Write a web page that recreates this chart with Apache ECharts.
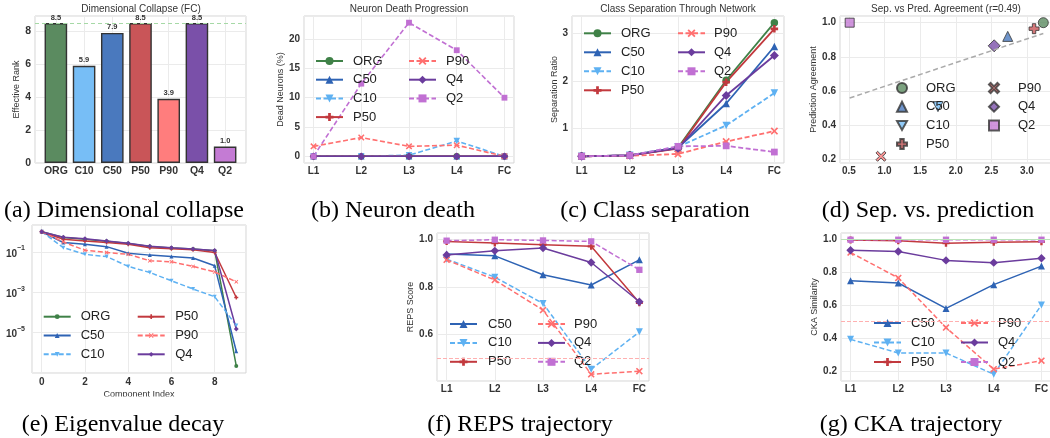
<!DOCTYPE html>
<html lang="en">
<head>
<meta charset="UTF-8">
<title>Compression diagnostics</title>
<script src="https://cdn.jsdelivr.net/npm/echarts@6/dist/echarts.min.js"></script>
<style>html,body{margin:0;padding:0;background:#fff}#main{width:1050px;height:438px}</style>
</head>
<body>
<div id="main"></div>
<script>
// ---- data ----
var models = ['ORG', 'C50', 'C10', 'P50', 'P90', 'Q4', 'Q2'];
var barOrder = ['ORG', 'C10', 'C50', 'P50', 'P90', 'Q4', 'Q2'];
var effRank = [8.5, 5.9, 7.9, 8.5, 3.9, 8.5, 1.0];
var layers = ['L1', 'L2', 'L3', 'L4', 'FC'];

// dead neurons (%)
var deadORG = [0, 0, 0, 0, 0];
var deadC50 = [0, 0, 0, 0, 0];
var deadC10 = [0, 0, 0.2, 2.6, 0];
var deadP50 = [0, 0, 0, 0, 0];
var deadP90 = [1.7, 3.2, 1.7, 1.9, 0];
var deadQ4 = [0, 0, 0, 0, 0];
var deadQ2 = [0, 12.4, 22.8, 18.1, 10.0];

// class separation ratio
var sepORG = [0.42, 0.44, 0.60, 2.02, 3.23];
var sepC50 = [0.42, 0.44, 0.60, 1.53, 2.73];
var sepC10 = [0.42, 0.44, 0.62, 1.07, 1.75];
var sepP50 = [0.42, 0.44, 0.58, 1.98, 3.10];
var sepP90 = [0.42, 0.43, 0.47, 0.73, 0.95];
var sepQ4 = [0.42, 0.44, 0.59, 1.70, 2.54];
var sepQ2 = [0.42, 0.44, 0.63, 0.64, 0.51];

// prediction agreement (same order as models)
var agree = [1.0, 0.92, 0.51, 0.965, 0.22, 0.865, 1.0];

// normalised eigenvalues, components 0..9
var eigORG = [1.0, 0.513, 0.427, 0.339, 0.263, 0.186, 0.158, 0.138, 0.115, 2.24e-7];
var eigC50 = [1.0, 0.288, 0.240, 0.182, 0.0851, 0.0692, 0.0589, 0.0501, 0.0204, 1.2e-6];
var eigC10 = [1.0, 0.162, 0.0759, 0.0589, 0.0191, 0.00955, 0.00372, 0.00145, 0.000603, 2.24e-5];
var eigP50 = [1.0, 0.427, 0.347, 0.288, 0.240, 0.162, 0.145, 0.126, 0.0933, 5.5e-4];
var eigP90 = [1.0, 0.309, 0.120, 0.0933, 0.0759, 0.0363, 0.0324, 0.0191, 0.0102, 0.00331];
var eigQ4 = [1.0, 0.537, 0.447, 0.347, 0.269, 0.191, 0.162, 0.141, 0.117, 1.51e-5];

// REPS score
var repsC50 = [0.94, 0.932, 0.852, 0.809, 0.915];
var repsC10 = [0.918, 0.842, 0.731, 0.453, 0.611];
var repsP50 = [0.993, 0.986, 0.979, 0.972, 0.734];
var repsP90 = [0.915, 0.83, 0.703, 0.432, 0.445];
var repsQ4 = [0.936, 0.953, 0.965, 0.904, 0.738];
var repsQ2 = [0.996, 1.0, 0.997, 0.993, 0.873];

// CKA similarity
var ckaC50 = [0.75, 0.736, 0.581, 0.726, 0.839];
var ckaC10 = [0.392, 0.309, 0.309, 0.179, 0.602];
var ckaP50 = [0.998, 0.994, 0.979, 0.984, 0.988];
var ckaP90 = [0.922, 0.767, 0.464, 0.21, 0.262];
var ckaQ4 = [0.936, 0.928, 0.874, 0.86, 0.887];
var ckaQ2 = [1.0, 1.0, 1.0, 1.0, 1.0];

var dead = {ORG: deadORG, C50: deadC50, C10: deadC10, P50: deadP50, P90: deadP90, Q4: deadQ4, Q2: deadQ2};
var sep = {ORG: sepORG, C50: sepC50, C10: sepC10, P50: sepP50, P90: sepP90, Q4: sepQ4, Q2: sepQ2};
var eig = {ORG: eigORG, C50: eigC50, C10: eigC10, P50: eigP50, P90: eigP90, Q4: eigQ4};
var reps = {C50: repsC50, C10: repsC10, P50: repsP50, P90: repsP90, Q4: repsQ4, Q2: repsQ2};
var cka = {C50: ckaC50, C10: ckaC10, P50: ckaP50, P90: ckaP90, Q4: ckaQ4, Q2: ckaQ2};

// ---- styles ----
var FONT = '"Liberation Sans", Arial, sans-serif';
var COL = {ORG: '#3f8147', C50: '#2e63b4', C10: '#5eb1f2', P50: '#c2393e', P90: '#ff6f6f', Q4: '#6b3c9d', Q2: '#c170d3'};
var BAR = {ORG: '#5b8b60', C10: '#77bef6', C50: '#4a79be', P50: '#c95558', P90: '#ff7d7d', Q4: '#7a50a9', Q2: '#c47bd4'};
var PLUS = 'path://M3.3,0H6.7V3.3H10V6.7H6.7V10H3.3V6.7H0V3.3H3.3Z';
var XMARK = 'path://M1.6,0L5,3.4L8.4,0L10,1.6L6.6,5L10,8.4L8.4,10L5,6.6L1.6,10L0,8.4L3.4,5L0,1.6Z';
var VTRI = 'path://M0,0H10L5,9Z';
var SYM = {ORG: 'circle', C50: 'triangle', C10: VTRI, P50: PLUS, P90: XMARK, Q4: 'diamond', Q2: 'rect'};
var SCALE = {Q4: 1.2, Q2: 0.9};
var DASHED = {C10: true, P90: true, Q2: true};

function allOf(map) {
  var out = [];
  for (var k in map) out = out.concat(map[k]);
  return out;
}
// matplotlib-like 5% margins
function pad(arr) {
  var lo = Math.min.apply(null, arr), hi = Math.max.apply(null, arr), r = hi - lo;
  return [lo - 0.05 * r, hi + 0.05 * r];
}
function near(v, step) {
  var k = Math.round(v / step);
  return Math.abs(v - k * step) < 1e-6;
}
function valAxis(gi, lim, step, fmt, o) {
  o = o || {};
  var ax = {
    type: 'value', gridIndex: gi, min: lim[0], max: lim[1],
    minInterval: step, maxInterval: step, splitNumber: Math.max(1, Math.round((lim[1] - lim[0]) / step)),
    axisLine: {show: false}, axisTick: {show: false},
    splitLine: {show: true, lineStyle: {color: '#ebebeb', width: 1}},
    axisLabel: {color: '#333', fontSize: o.fs || 10, fontWeight: 'bold', fontFamily: FONT, margin: o.margin || 4,
      formatter: function (v) { return near(v, step) ? fmt(v) : ''; }}
  };
  if (o.name) {
    ax.name = o.name; ax.nameLocation = 'middle'; ax.nameGap = o.nameGap;
    ax.nameTextStyle = {fontSize: 9, color: '#333', fontFamily: FONT};
  }
  return ax;
}
function layerAxis(gi) {
  return valAxis(gi, [-0.2, 4.2], 1, function (v) { return layers[Math.round(v)] || ''; }, {margin: 3});
}
function lineSeries(tag, gi, n, values, o) {
  return {
    type: 'line', name: n + '|' + tag, xAxisIndex: gi, yAxisIndex: gi,
    data: values.map(function (v, i) { return [i, o.log ? Math.log10(v) : v]; }),
    symbol: SYM[n], symbolSize: o.ms * (SCALE[n] || 1), showSymbol: true,
    lineStyle: {color: COL[n], width: o.lw, type: DASHED[n] ? [5, 2.5] : 'solid'},
    itemStyle: {color: COL[n], borderWidth: 0},
    emphasis: {disabled: true}
  };
}
function legendCol(names, tag, left, top, o) {
  return {
    orient: 'vertical', left: left, top: top, padding: 0,
    itemGap: o.gap, itemWidth: o.iw, itemHeight: o.ih, selectedMode: false,
    data: names.map(function (n) { return n + '|' + tag; }),
    formatter: function (n) { return n.split('|')[0]; },
    textStyle: {fontSize: 13, lineHeight: 14, color: '#222', fontFamily: FONT, padding: [0, 0, 0, o.pad]}
  };
}
function hline(y, color, type) {
  return {yAxis: y, lineStyle: {color: color, type: type, width: 1.2}};
}

// ---- derived: least-squares fit of agreement vs FC separation ----
var sepFC = models.map(function (n) { return sep[n][sep[n].length - 1]; });
var mx = sepFC.reduce(function (a, b) { return a + b; }, 0) / sepFC.length;
var my = agree.reduce(function (a, b) { return a + b; }, 0) / agree.length;
var sxy = 0, sxx = 0, syy = 0;
sepFC.forEach(function (x, i) { sxy += (x - mx) * (agree[i] - my); sxx += (x - mx) * (x - mx); syy += (agree[i] - my) * (agree[i] - my); });
var slope = sxy / sxx, icpt = my - slope * mx, rCorr = sxy / Math.sqrt(sxx * syy);
var fx0 = Math.min.apply(null, sepFC), fx1 = Math.max.apply(null, sepFC);

// ---- layout ----
var grids = [
  {left: 35, top: 16, width: 211, height: 147},
  {left: 304, top: 16, width: 210, height: 147},
  {left: 572, top: 16, width: 212, height: 147},
  {left: 840, top: 16, width: 213, height: 147},
  {left: 32, top: 225, width: 214, height: 148},
  {left: 437, top: 233, width: 212, height: 148},
  {left: 841, top: 233, width: 210, height: 148}
].map(function (g) {
  g.show = true; g.borderColor = '#d4d4d4'; g.borderWidth = 1; g.containLabel = false; g.outerBoundsMode = 'none';
  return g;
});

var int0 = function (v) { return String(Math.round(v)); };
var one = function (v) { return v.toFixed(1); };
var eLogLim = pad(allOf(eig).map(Math.log10));

var xAxes = [
  valAxis(0, pad([-0.4, barOrder.length - 1 + 0.4]), 1, function (v) { return barOrder[Math.round(v)] || ''; }, {fs: 10.5, margin: 3}),
  layerAxis(1),
  layerAxis(2),
  valAxis(3, pad(sepFC), 0.5, one, {margin: 3}),
  valAxis(4, pad([0, 9]), 2, int0, {margin: 4, name: 'Component Index', nameGap: 17}),
  layerAxis(5),
  layerAxis(6)
];
var yAxes = [
  valAxis(0, [0, Math.max.apply(null, effRank) * 1.05], 2, int0, {fs: 10.5, name: 'Effective Rank', nameGap: 12.5}),
  valAxis(1, pad(allOf(dead)), 5, int0, {name: 'Dead Neurons (%)', nameGap: 19}),
  valAxis(2, pad(allOf(sep)), 1, int0, {name: 'Separation Ratio', nameGap: 12.5}),
  valAxis(3, pad(agree), 0.2, one, {name: 'Prediction Agreement', nameGap: 20.5}),
  {
    // log10 scale: majors every two decades counted from 1e-7
    type: 'value', gridIndex: 4, min: -7, max: eLogLim[1], interval: 2,
    axisLine: {show: false}, axisTick: {show: false},
    splitLine: {show: true, lineStyle: {color: '#ebebeb', width: 1}},
    axisLabel: {
      margin: 7,
      formatter: function (v) {
        var k = Math.round(v);
        if (Math.abs(v - k) > 1e-6 || k <= -7 || k > eLogLim[1]) return '';
        return '{b|10}{s|' + (k < 0 ? '\u2212' : '') + Math.abs(k) + '}';
      },
      rich: {
        b: {fontSize: 10, fontWeight: 'bold', color: '#333', fontFamily: FONT, verticalAlign: 'bottom', lineHeight: 14},
        s: {fontSize: 7, fontWeight: 'bold', color: '#333', fontFamily: FONT, verticalAlign: 'top', lineHeight: 8}
      }
    }
  },
  valAxis(5, pad(allOf(reps)), 0.2, one, {name: 'REPS Score', nameGap: 20.8}),
  valAxis(6, pad(allOf(cka)), 0.2, one, {name: 'CKA Similarity', nameGap: 19.8})
];

var series = [];
// (a) effective rank bars
series.push({
  type: 'bar', xAxisIndex: 0, yAxisIndex: 0, barWidth: 22.6,
  data: effRank.map(function (v, i) { return {value: [i, v], itemStyle: {color: BAR[barOrder[i]]}}; }),
  itemStyle: {borderColor: '#333', borderWidth: 1.4},
  label: {show: true, position: 'top', distance: 1.5, fontSize: 7.5, fontWeight: 'bold', color: '#333', fontFamily: FONT,
    formatter: function (p) { return p.value[1].toFixed(1); }},
  markLine: {silent: true, symbol: 'none', label: {show: false}, data: [hline(effRank[0], '#a6d9a6', [4, 3])]},
  emphasis: {disabled: true}
});
// (b) dead neurons, (c) separation
models.forEach(function (n) { series.push(lineSeries('b', 1, n, dead[n], {ms: 6.5, lw: 1.6})); });
models.forEach(function (n) { series.push(lineSeries('c', 2, n, sep[n], {ms: 7.5, lw: 1.8})); });
// (d) scatter with fitted trend
series.push({
  type: 'line', name: 'fit', xAxisIndex: 3, yAxisIndex: 3, symbol: 'none',
  data: [[fx0, icpt + slope * fx0], [fx1, icpt + slope * fx1]],
  lineStyle: {color: '#aaaaaa', width: 1.5, type: [5, 3]}, emphasis: {disabled: true}
});
models.forEach(function (n, i) {
  series.push({
    type: 'scatter', name: n + '|d', xAxisIndex: 3, yAxisIndex: 3,
    data: [[sepFC[i], agree[i]]], symbol: SYM[n], symbolSize: 10 * (SCALE[n] || 1),
    itemStyle: {color: BAR[n], borderColor: '#333', borderWidth: 1}, emphasis: {disabled: true}
  });
});
// (e) eigenvalue decay
var eModels = ['ORG', 'C50', 'C10', 'P50', 'P90', 'Q4'];
eModels.forEach(function (n) { series.push(lineSeries('e', 4, n, eig[n], {ms: 4, lw: 1.5, log: true})); });
// (f) REPS, (g) CKA
var tModels = ['C50', 'C10', 'P50', 'P90', 'Q4', 'Q2'];
tModels.forEach(function (n, i) {
  var s = lineSeries('f', 5, n, reps[n], {ms: 7, lw: 1.5});
  if (i === 0) s.markLine = {silent: true, symbol: 'none', label: {show: false}, data: [hline(0.5, '#ffb0b0', [4, 2])]};
  series.push(s);
});
tModels.forEach(function (n, i) {
  var s = lineSeries('g', 6, n, cka[n], {ms: 7, lw: 1.5});
  if (i === 0) s.markLine = {silent: true, symbol: 'none', label: {show: false},
    data: [hline(0.5, '#ffb0b0', [4, 2]), hline(1.0, '#b8e2b8', 'solid')]};
  series.push(s);
});

var LO = {gap: 4.7, iw: 27, ih: 10, pad: 5};
var legends = [
  legendCol(['ORG', 'C50', 'C10', 'P50'], 'b', 315, 54, LO),
  legendCol(['P90', 'Q4', 'Q2'], 'b', 408, 54, LO),
  legendCol(['ORG', 'C50', 'C10', 'P50'], 'c', 583, 26.3, {gap: 5, iw: 27, ih: 10, pad: 5}),
  legendCol(['P90', 'Q4', 'Q2'], 'c', 677, 26.3, {gap: 5, iw: 27, ih: 10, pad: 4}),
  legendCol(['ORG', 'C50', 'C10', 'P50'], 'd', 896, 81, {gap: 4.7, iw: 10, ih: 10, pad: 14}),
  legendCol(['P90', 'Q4', 'Q2'], 'd', 988, 81, {gap: 4.7, iw: 10, ih: 10, pad: 14}),
  legendCol(['ORG', 'C50', 'C10'], 'e', 42.7, 309.7, {gap: 4.8, iw: 27, ih: 6, pad: 5}),
  legendCol(['P50', 'P90', 'Q4'], 'e', 136.7, 309.7, {gap: 4.8, iw: 27, ih: 6, pad: 5.5}),
  legendCol(['C50', 'C10', 'P50'], 'f', 449, 317, {gap: 4.9, iw: 27, ih: 10, pad: 6}),
  legendCol(['P90', 'Q4', 'Q2'], 'f', 537, 317, {gap: 4.9, iw: 27, ih: 10, pad: 4}),
  legendCol(['C50', 'C10', 'P50'], 'g', 873, 316, {gap: 5.5, iw: 27, ih: 10, pad: 5}),
  legendCol(['P90', 'Q4', 'Q2'], 'g', 960, 316, {gap: 5.5, iw: 27, ih: 10, pad: 5})
];

function txt(s, x, y, font, fill) {
  return {type: 'text', x: x, y: y, silent: true, z: 100,
    style: {text: s, font: font, fill: fill, align: 'center', verticalAlign: 'middle', textAlign: 'center', textVerticalAlign: 'middle'}};
}
var TF = '10px ' + FONT, CF = '24px "Liberation Serif", "Times New Roman", serif';
var graphics = [
  // the (e) panel is cut off just under its x-axis name in the source figure
  {type: 'rect', silent: true, z: 90, shape: {x: 0, y: 396.5, width: 262, height: 10}, style: {fill: '#fff'}},
  txt('Dimensional Collapse (FC)', 141, 9, TF, '#333'),
  txt('Neuron Death Progression', 409, 9, TF, '#333'),
  txt('Class Separation Through Network', 678, 9, TF, '#333'),
  txt('Sep. vs Pred. Agreement (r=' + rCorr.toFixed(2) + ')', 946, 9, TF, '#333'),
  txt('(a) Dimensional collapse', 124, 211, CF, '#000'),
  txt('(b) Neuron death', 393, 211, CF, '#000'),
  txt('(c) Class separation', 655, 211, CF, '#000'),
  txt('(d) Sep. vs. prediction', 928, 211, CF, '#000'),
  txt('(e) Eigenvalue decay', 123, 425, CF, '#000'),
  txt('(f) REPS trajectory', 520, 425, CF, '#000'),
  txt('(g) CKA trajectory', 911, 425, CF, '#000')
];

var myChart = echarts.init(document.getElementById('main'));
myChart.setOption({
  backgroundColor: '#fff',
  animation: false,
  grid: grids,
  xAxis: xAxes,
  yAxis: yAxes,
  legend: legends,
  series: series,
  graphic: graphics
});
</script>
</body>
</html>
